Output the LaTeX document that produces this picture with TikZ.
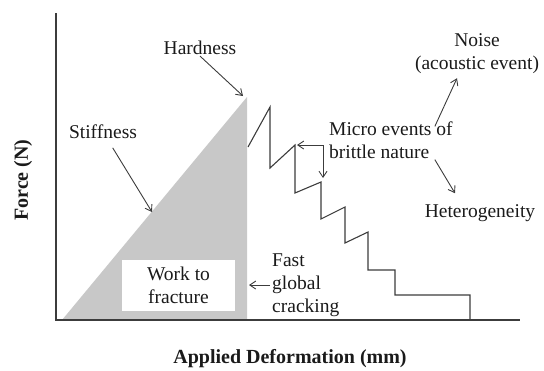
\documentclass[tikz,border=0pt]{standalone}
\usepackage{fontspec}
\setmainfont{Liberation Serif}
\usetikzlibrary{positioning,calc,arrows.meta}
\definecolor{ink}{HTML}{1A1A1A}
\definecolor{graphite}{HTML}{3C3C3C}
\definecolor{wedgegray}{HTML}{C8C8C8}

\begin{document}
\begin{tikzpicture}[x=1pt,y=-1pt,
        lbl/.style={text=ink,inner sep=1pt,align=center,
          font=\fontsize{19.5}{23}\selectfont},
        axlbl/.style={text=ink,inner sep=1pt,
          font=\fontsize{20}{23}\selectfont\bfseries},
        ln/.style={graphite,line width=1.1pt},
        arr/.style={graphite,line width=0.9pt,-{Straight Barb[length=6pt,width=8pt]}}]
        \useasboundingbox (0,0) rectangle (544,370);
        % area under the curve
        \fill[wedgegray] (62,320) -- (247,97) -- (247,320) -- cycle;
        \node[lbl,fill=white,minimum width=113pt,minimum height=51pt] (work) at (178.5,285.5) {Work to\\fracture};
        % axes
        \coordinate (ytop) at (56,13);
        \coordinate (orig) at (56,320);
        \coordinate (xend) at (520,320);
        \draw[ln] (ytop) -- (orig) -- (xend);
        \node[axlbl,rotate=90] (yl) at (23,180) {Force (N)};
        \node[axlbl] (xl) at (290,359) {Applied Deformation (mm)};
        % saw-tooth after the peak
        \draw[ln] (248,147) -- (270,107) -- (270,168) -- (295,145) -- (295,193)
          -- (321,182) -- (321,219) -- (345,207) -- (345,243) -- (368,232)
          -- (368,270) -- (395,270) -- (395,295) -- (470,295) -- (470,320);
        % labels
        \node[lbl] (hard) at (200,48) {Hardness};
        \node[lbl] (stiff) at (103,132) {Stiffness};
        \node[lbl,align=left,anchor=west] (micro) at (328,140) {Micro events of\\brittle nature};
        \node[lbl] (noise) at (477,54) {Noise\\(acoustic event)};
        \node[lbl] (hetero) at (480,213) {Heterogeneity};
        \node[lbl,align=left,anchor=west] (crack) at (271,285) {Fast\\global\\cracking};
        % arrow ends
        \coordinate (apex) at (243,96);
        \coordinate (slope) at (152,212);
        \coordinate (mbend) at (323,145);
        \coordinate (peak) at (297,145);
        \coordinate (tooth) at (323,178);
        \coordinate (gedge) at (249,285);
        \draw[arr] (hard.south) -- (apex);
        \draw[arr,shorten <=9pt] (stiff) -- (slope);
        \draw[arr] (mbend) -- (peak);
        \draw[arr] (mbend) -- (tooth);
        \draw[arr] ([xshift=-19pt,yshift=-6pt]micro.north east) -- ([xshift=-20pt,yshift=-3pt]noise.south);
        \draw[arr] ([xshift=-19pt]micro.south east) -- ([xshift=-25pt,yshift=10pt]hetero.north);
        \draw[arr] ([xshift=-1pt]crack.west) -- (gedge);
      \end{tikzpicture}
\end{document}
